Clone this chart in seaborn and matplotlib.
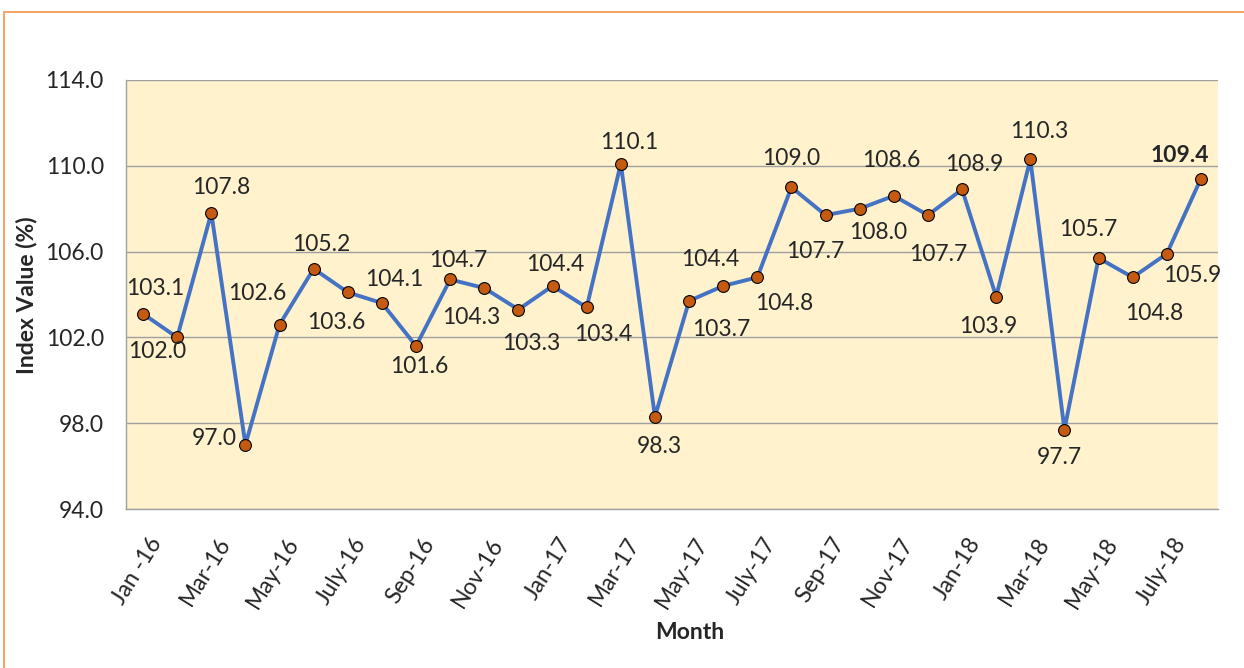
import numpy as np
import pandas as pd
import matplotlib
matplotlib.use("Agg")
from matplotlib import pyplot as plt
import matplotlib.transforms as mtransforms
from matplotlib.patches import Rectangle
from matplotlib.ticker import FormatStrFormatter
import seaborn as sns


# monthly index values, Jan-16 .. Aug-18
months = ["Jan-16", "Feb-16", "Mar-16", "Apr-16", "May-16", "Jun-16", "Jul-16", "Aug-16",
          "Sep-16", "Oct-16", "Nov-16", "Dec-16", "Jan-17", "Feb-17", "Mar-17", "Apr-17",
          "May-17", "Jun-17", "Jul-17", "Aug-17", "Sep-17", "Oct-17", "Nov-17", "Dec-17",
          "Jan-18", "Feb-18", "Mar-18", "Apr-18", "May-18", "Jun-18", "Jul-18", "Aug-18"]
index_values = [103.1, 102.0, 107.8, 97.0, 102.6, 105.2, 104.1, 103.6,
                101.6, 104.7, 104.3, 103.3, 104.4, 103.4, 110.1, 98.3,
                103.7, 104.4, 104.8, 109.0, 107.7, 108.0, 108.6, 107.7,
                108.9, 103.9, 110.3, 97.7, 105.7, 104.8, 105.9, 109.4]
tick_labels = ["Jan -16", "Mar-16", "May-16", "July-16", "Sep-16", "Nov-16",
               "Jan-17", "Mar-17", "May-17", "July-17", "Sep-17", "Nov-17",
               "Jan-18", "Mar-18", "May-18", "July-18"]

# where each data label sits relative to its marker (pixels, up is positive)
label_offsets = [(12, 25), (-20, -14), (10, 25), (-31, 6), (-22, 31), (8, 24), (46, 13), (-46, -19),
                 (3, -21), (8, 19), (-13, -29), (13, -34), (3, 21), (17, -27), (8, 21), (4, -30),
                 (32, -29), (-13, 26), (27, -26), (0, 29), (-10, -36), (18, -24), (-3, 35), (10, -39),
                 (12, 25), (-8, -30), (9, 28), (-5, -28), (-10, 29), (22, -36), (25, -22), (-21, 23)]

sns.set_style("white")
plt.rcParams['font.family'] = ['Lato', 'DejaVu Sans']
FS = 16.5
GREY = '#A0A0A0'

df = pd.DataFrame({'Month': months, 'Index': index_values})

fig = plt.figure(figsize=(12.44, 6.68), dpi=100)
ax = fig.add_axes([126 / 1244, 1 - 509 / 668, 1092 / 1244, 429 / 668])
ax.set_facecolor('#FFF2CC')

sns.lineplot(data=df, x='Month', y='Index', ax=ax, sort=False, color='#4472C4', linewidth=2.8,
             marker='o', markersize=8.5, markerfacecolor='#C55A11',
             markeredgecolor='black', markeredgewidth=0.8, zorder=3)

for i, (v, off) in enumerate(zip(index_values, label_offsets)):
    ax.annotate(f"{v:.1f}", (i, v), xytext=off, textcoords='offset pixels',
                ha='center', va='center', fontsize=FS,
                fontweight='bold' if i == len(index_values) - 1 else 'normal')

# axes
ax.set_xlim(-0.5, len(months) - 0.5)
ax.set_ylim(94, 114)
ax.set_yticks(np.arange(94, 115, 4))
ax.yaxis.set_major_formatter(FormatStrFormatter('%.1f'))
ax.yaxis.grid(True, color=GREY, lw=1.0)
ax.set_axisbelow(True)

ax.set_xticks(np.arange(0, len(months), 2))
ax.set_xticklabels(tick_labels)
ax.set_xticks(np.arange(-0.5, len(months), 1), minor=True)
ax.tick_params(axis='x', which='major', length=0, pad=22, labelsize=FS)
ax.tick_params(axis='x', which='minor', length=6, color=GREY, width=1.0, direction='out')
ax.tick_params(axis='y', length=7, color=GREY, width=1.0, pad=9, labelsize=FS, direction='out')
shift = mtransforms.ScaledTranslation(14 / 100, 0, fig.dpi_scale_trans)
for lab in ax.get_xticklabels():
    lab.set_rotation(58)
    lab.set_ha('right')
    lab.set_va('center')
    lab.set_rotation_mode('anchor')
    lab.set_transform(lab.get_transform() + shift)

for s in ['top', 'right']:
    ax.spines[s].set_visible(False)
for s in ['left', 'bottom']:
    ax.spines[s].set_color(GREY)
    ax.spines[s].set_linewidth(1.0)

ax.set_xlabel("Month", fontsize=FS, fontweight='bold')
ax.xaxis.set_label_coords(0.516, -0.289)
ax.xaxis.label.set_va('center')
ax.set_ylabel("Index Value (%)", fontsize=FS, fontweight='bold')
ax.yaxis.set_label_coords(-0.0907, 0.499)
ax.yaxis.label.set_va('center')

# orange frame around the chart (cropped at right and bottom)
fig.patches.append(Rectangle((4 / 1244, -0.05), 1.2, 1.05 - 12 / 668, transform=fig.transFigure,
                             fill=False, edgecolor='#F4A66A', linewidth=1.5))

plt.savefig('out.png', dpi=100)
